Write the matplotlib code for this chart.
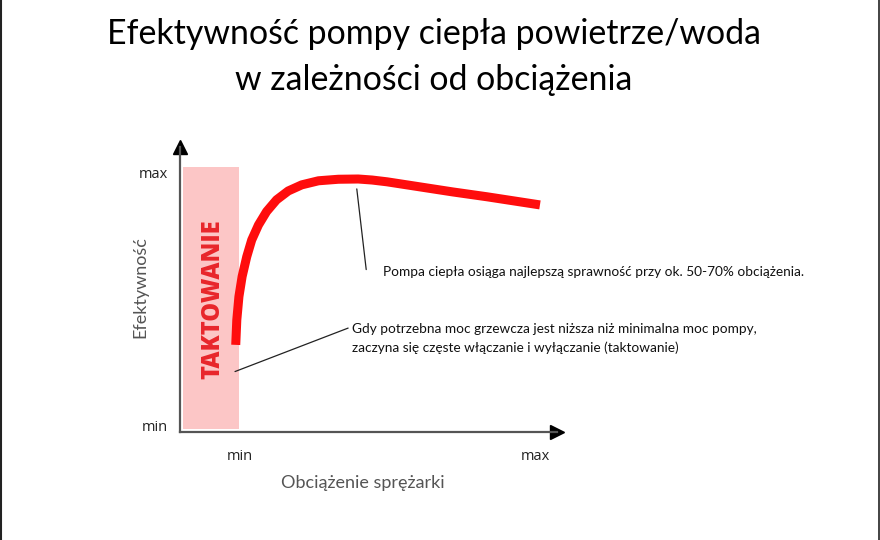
import matplotlib
matplotlib.use("Agg")
import matplotlib.pyplot as plt
from matplotlib.lines import Line2D

# curve: load (% of max) vs efficiency (% of max)
load = [15.7, 16.0, 16.6, 17.5, 18.8, 20.2, 22.1, 24.4, 27.2, 30.5, 34.3, 39.0,
        44.6, 50.2, 54.1, 58.3, 67.6, 76.9, 86.5, 101.4]
efficiency = [32.3, 42.1, 51.3, 59.2, 67.0, 73.6, 79.5, 84.8, 89.4, 92.9, 95.3, 96.9,
              97.5, 97.6, 97.2, 96.5, 94.5, 92.5, 90.6, 87.4]

cycling_zone = (0.8, 16.6)     # x-range of the "taktowanie" band
x_ticks = [16.9, 100]
x_tick_labels = ["min", "max"]
y_ticks = [0.4, 100]
y_tick_labels = ["min", "max"]

title = "Efektywność pompy ciepła powietrze/woda\nw zależności od obciążenia"
note_best = "Pompa ciepła osiąga najlepszą sprawność przy ok. 50-70% obciążenia."
note_cycling = ("Gdy potrzebna moc grzewcza jest niższa niż minimalna moc pompy,\n"
                "zaczyna się częste włączanie i wyłączanie (taktowanie)")

fig = plt.figure(figsize=(8.8, 5.4), dpi=100)
ax = fig.add_axes([180 / 880, 108 / 540, 377 / 880, 285 / 540])
ax.set_xlim(0, 106.2)
ax.set_ylim(-2, 110.2)

# band where the pump cycles on/off
ax.axvspan(*cycling_zone, ymin=1 / 112.2, ymax=104.4 / 112.2, color="#fcc6c6", lw=0)
ax.text(sum(cycling_zone) / 2 + 0.5, 50.4, "TAKTOWANIE", rotation=90, ha="center", va="center",
        color="#e8262b", fontsize=17, fontweight="heavy", family="Open Sans")

ax.plot(load, efficiency, color="#ff0d0d", lw=6.5, solid_capstyle="butt",
        solid_joinstyle="round", clip_on=False)

# axes with arrow heads
for s in ["top", "right"]:
    ax.spines[s].set_visible(False)
for s in ["left", "bottom"]:
    ax.spines[s].set_color("#555555")
    ax.spines[s].set_linewidth(1.6)
ax.plot(1, 0, ">", color="black", ms=10, transform=ax.transAxes, clip_on=False)
ax.plot(0, 1, "^", color="black", ms=10, transform=ax.transAxes, clip_on=False)

ax.set_xticks(x_ticks, x_tick_labels)
ax.set_yticks(y_ticks, y_tick_labels)
ax.tick_params(length=0, labelsize=10.5, colors="#222222")
ax.tick_params(axis="x", pad=12)
ax.tick_params(axis="y", pad=9)
for lab in ax.get_xticklabels() + ax.get_yticklabels():
    lab.set_family("Open Sans")

ax.set_xlabel("Obciążenie sprężarki", family="Lato", fontsize=13, color="#555555")
ax.xaxis.set_label_coords(183 / 377, -0.15)
ax.set_ylabel("Efektywność", family="Lato", fontsize=13, color="#555555")
ax.yaxis.set_label_coords(-32 / 377, 0.51)

# annotations
ax.annotate(note_best, xy=(49.8, 93.7), xytext=(57.2, 61.0), fontsize=9.8,
            family="Lato", va="center", ha="left", color="#111111",
            arrowprops=dict(arrowstyle="-", color="#222222", lw=0.9,
                            shrinkA=0, shrinkB=0, relpos=(-0.04, 0.7)),
            annotation_clip=False)
ax.annotate(note_cycling, xy=(15.5, 21.8), xytext=(48.5, 34.9), fontsize=9.8,
            family="Lato", va="center", ha="left", color="#111111", linespacing=1.6,
            arrowprops=dict(arrowstyle="-", color="#222222", lw=0.9,
                            shrinkA=0, shrinkB=0, relpos=(-0.01, 0.83)),
            annotation_clip=False)

fig.text(434 / 880, 1 - 57 / 540, title, ha="center", va="center", family="Lato",
         fontsize=24.4, linespacing=1.5, color="black")

# page frame at left and right edge
fig.add_artist(Line2D([1 / 880, 1 / 880], [0, 1], color="#222222", lw=1.5))
fig.add_artist(Line2D([878.5 / 880, 878.5 / 880], [0, 1], color="#222222", lw=1.2))

fig.savefig("out.png", dpi=100)
